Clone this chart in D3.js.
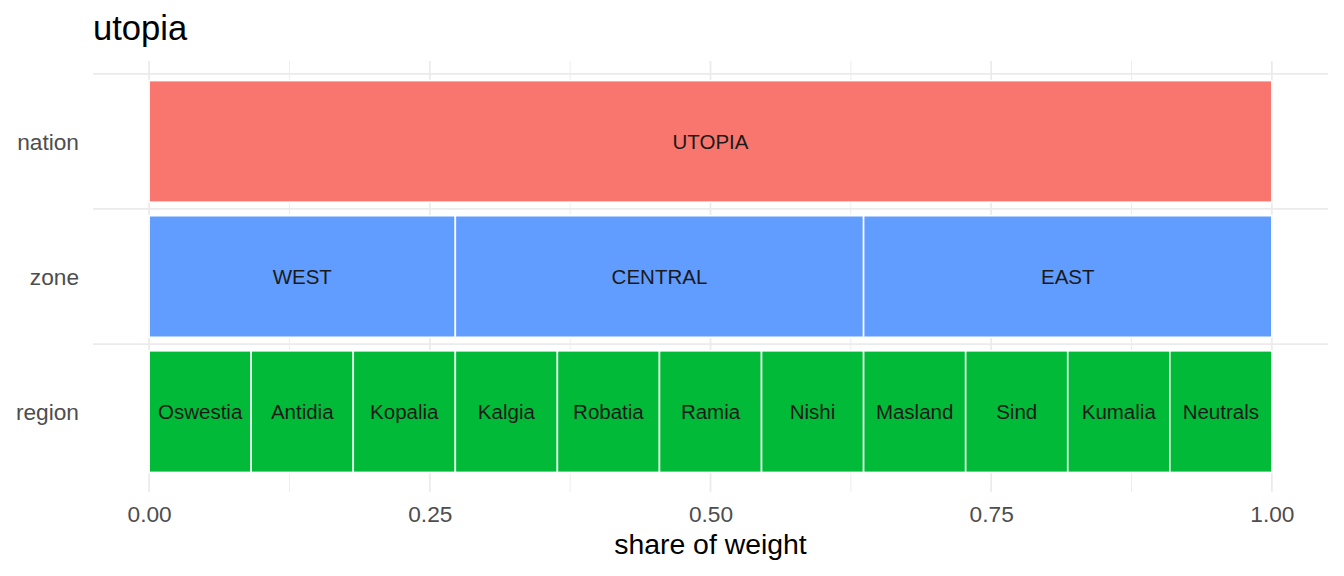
<!DOCTYPE html>
<html>
<head>
<meta charset="utf-8">
<script src="https://cdn.jsdelivr.net/npm/d3@7"></script>
<style>
  body { margin: 0; background: #fff; }
  svg { display: block; font-family: "Liberation Sans", Arial, sans-serif; }
</style>
</head>
<body>
<svg></svg>
<script>
// levels, bottom to top
var levels = ['region', 'zone', 'nation'];

var regions = ['Oswestia', 'Antidia', 'Kopalia', 'Kalgia', 'Robatia', 'Ramia',
  'Nishi', 'Masland', 'Sind', 'Kumalia', 'Neutrals'];
var regionWeight = [1, 1, 1, 1, 1, 1, 1, 1, 1, 1, 1];
var regionZone = ['WEST', 'WEST', 'WEST', 'CENTRAL', 'CENTRAL', 'CENTRAL',
  'CENTRAL', 'EAST', 'EAST', 'EAST', 'EAST'];
var zones = ['WEST', 'CENTRAL', 'EAST'];
var nations = ['UTOPIA'];

var xTicks = [0, 0.25, 0.5, 0.75, 1];
var xMinor = [0.125, 0.375, 0.625, 0.875];
var yGrid = [1.5, 2.5, 3.5];

var levelColor = { nation: '#F8766D', zone: '#619CFF', region: '#00BA38' };

var W = 1344, H = 576;
var margin = { top: 61, right: 16, bottom: 84, left: 93 };
var width = W - margin.left - margin.right,
  height = H - margin.top - margin.bottom;

var svg = d3.select('svg')
  .attr('width', W)
  .attr('height', H);

// ggplot style 5% expansion
var x = d3.scaleLinear().domain([-0.05, 1.05]).range([0, width]);
var y = d3.scaleLinear().domain([0.405, 3.595]).range([height, 0]);
var barH = 0.9;

// build rectangles: share of total weight per level
var total = d3.sum(regionWeight);
var rects = [];
var acc = 0;
regions.forEach(function(r, i) {
  rects.push({ level: 'region', name: r, x0: acc / total, x1: (acc + regionWeight[i]) / total });
  acc += regionWeight[i];
});
acc = 0;
zones.forEach(function(z) {
  var w = d3.sum(regionWeight.filter(function(d, i) { return regionZone[i] === z; }));
  rects.push({ level: 'zone', name: z, x0: acc / total, x1: (acc + w) / total });
  acc += w;
});
nations.forEach(function(n) {
  rects.push({ level: 'nation', name: n, x0: 0, x1: 1 });
});

// title
svg.append('text')
  .attr('x', margin.left)
  .attr('y', 40)
  .attr('font-size', 34.6)
  .attr('fill', '#000')
  .text('utopia');

var g = svg.append('g')
  .attr('transform', 'translate(' + margin.left + ',' + margin.top + ')');

// grid
g.selectAll('.minor')
  .data(xMinor)
  .enter().append('line')
  .attr('x1', function(d) { return x(d); })
  .attr('x2', function(d) { return x(d); })
  .attr('y1', 0).attr('y2', height)
  .attr('stroke', '#EBEBEB').attr('stroke-width', 0.9);

g.selectAll('.major')
  .data(xTicks)
  .enter().append('line')
  .attr('x1', function(d) { return x(d); })
  .attr('x2', function(d) { return x(d); })
  .attr('y1', 0).attr('y2', height)
  .attr('stroke', '#EBEBEB').attr('stroke-width', 1.8);

g.selectAll('.hgrid')
  .data(yGrid)
  .enter().append('line')
  .attr('x1', 0).attr('x2', width)
  .attr('y1', function(d) { return y(d); })
  .attr('y2', function(d) { return y(d); })
  .attr('stroke', '#EBEBEB').attr('stroke-width', 1.8);

// bars
function yPos(level) { return levels.indexOf(level) + 1; }

g.selectAll('.bar')
  .data(rects)
  .enter().append('rect')
  .attr('x', function(d) { return x(d.x0); })
  .attr('width', function(d) { return x(d.x1) - x(d.x0); })
  .attr('y', function(d) { return y(yPos(d.level) + barH / 2); })
  .attr('height', function(d) { return y(yPos(d.level) - barH / 2) - y(yPos(d.level) + barH / 2); })
  .attr('fill', function(d) { return levelColor[d.level]; })
  .attr('stroke', '#fff')
  .attr('stroke-width', 1.6);

g.selectAll('.lbl')
  .data(rects)
  .enter().append('text')
  .attr('x', function(d) { return x((d.x0 + d.x1) / 2); })
  .attr('y', function(d) { return y(yPos(d.level)) + 7.5; })
  .attr('text-anchor', 'middle')
  .attr('font-size', 20.5)
  .attr('fill', '#1A1A1A')
  .text(function(d) { return d.name; });

// axes
var xAxis = d3.axisBottom(x)
  .tickValues(xTicks)
  .tickFormat(d3.format('.2f'))
  .tickSize(0)
  .tickPadding(0);

var xa = g.append('g')
  .attr('transform', 'translate(0,' + height + ')')
  .call(xAxis);
xa.select('.domain').remove();
xa.selectAll('text')
  .attr('dy', null)
  .attr('y', 30)
  .attr('font-size', 22.7)
  .attr('font-family', null)
  .attr('fill', '#4D4D4D');

var yAxis = d3.axisLeft(y)
  .tickValues([1, 2, 3])
  .tickFormat(function(d) { return levels[d - 1]; })
  .tickSize(0)
  .tickPadding(0);

var ya = g.append('g').call(yAxis);
ya.select('.domain').remove();
ya.selectAll('text')
  .attr('dy', null)
  .attr('x', -14)
  .attr('y', 8)
  .attr('font-size', 22.7)
  .attr('font-family', null)
  .attr('fill', '#4D4D4D');

// axis title
svg.append('text')
  .attr('x', margin.left + width / 2)
  .attr('y', 554)
  .attr('text-anchor', 'middle')
  .attr('font-size', 28.4)
  .attr('fill', '#000')
  .text('share of weight');
</script>
</body>
</html>
